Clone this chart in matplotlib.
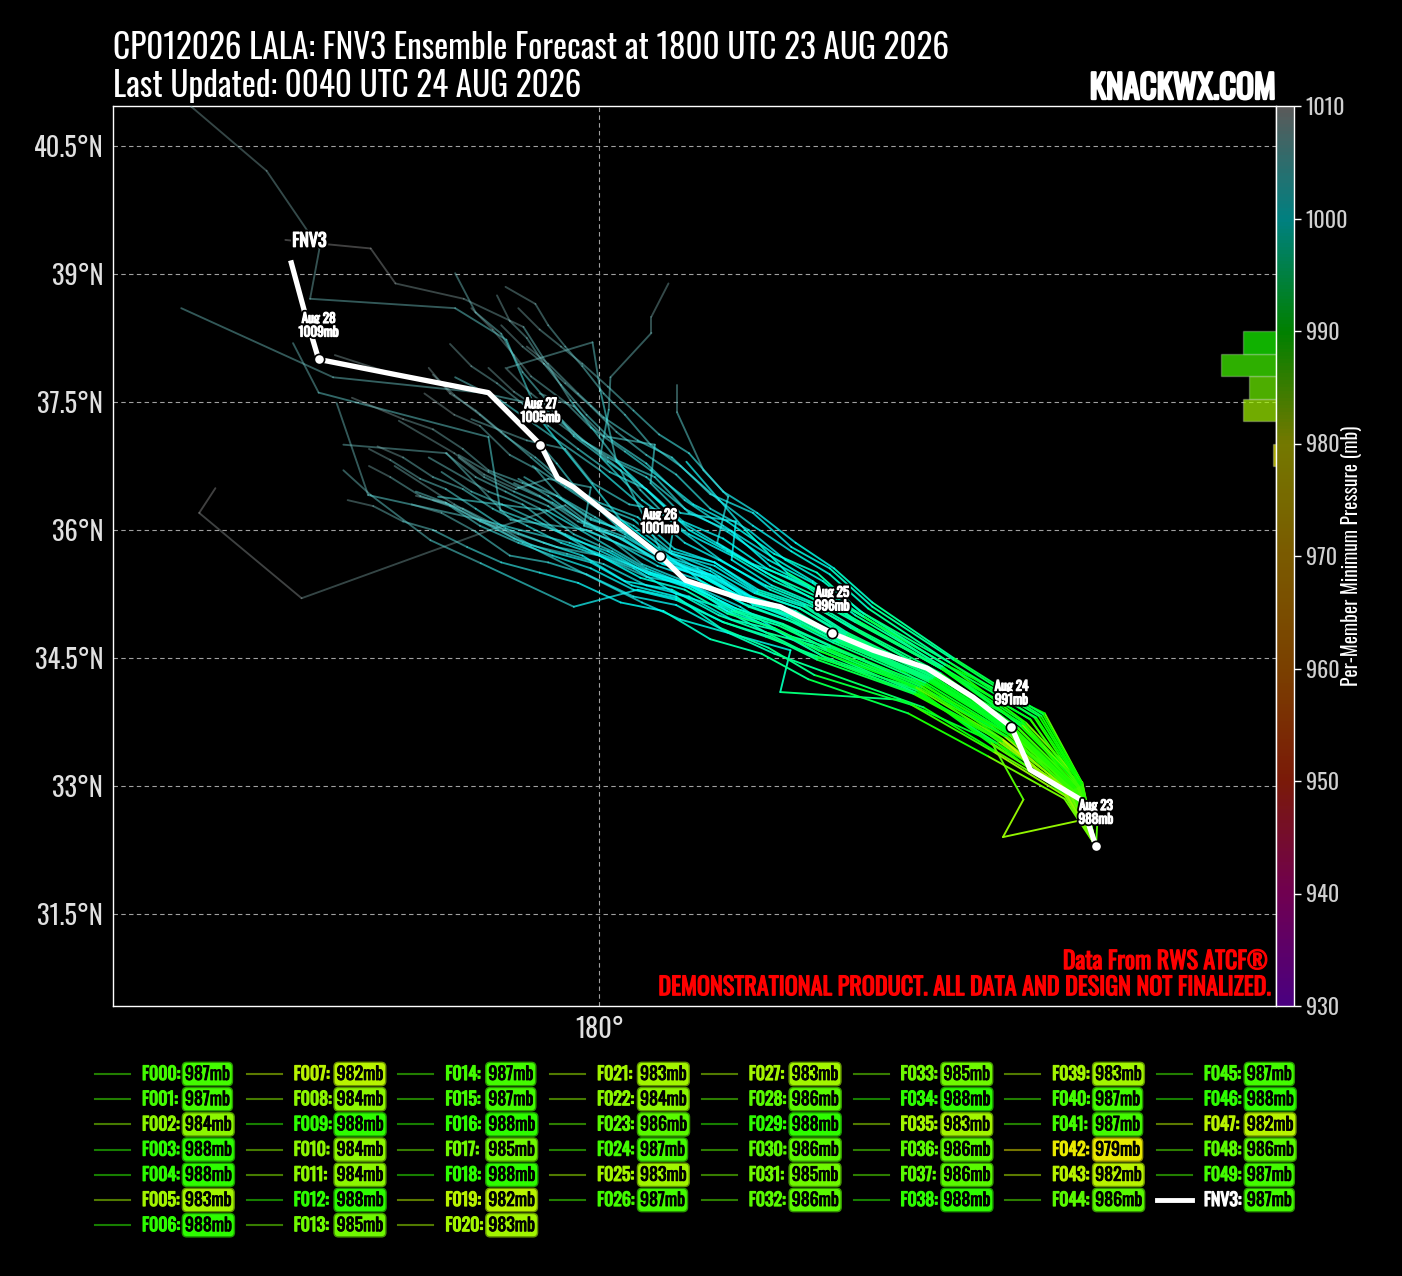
import numpy as np
import matplotlib
matplotlib.use("Agg")
import matplotlib.pyplot as plt
import matplotlib.patheffects as pe
from matplotlib import font_manager as fm
from matplotlib.collections import LineCollection
from matplotlib.colors import LinearSegmentedColormap, Normalize, to_rgb
from matplotlib.cm import ScalarMappable
from matplotlib.lines import Line2D
from matplotlib.ticker import FuncFormatter

# ---- data -------------------------------------------------------------
TITLE1 = "CP012026 LALA: FNV3 Ensemble Forecast at 1800 UTC 23 AUG 2026"
TITLE2 = "Last Updated: 0040 UTC 24 AUG 2026"

member_names = [f"F{i:03d}" for i in range(50)]
member_min = [987, 987, 984, 988, 988, 983, 988,
              982, 984, 988, 984, 984, 988, 985,
              987, 987, 988, 985, 988, 982, 983,
              983, 984, 986, 987, 983, 987,
              983, 986, 988, 986, 985, 986,
              985, 988, 983, 986, 986, 988,
              983, 987, 987, 979, 982, 986,
              987, 988, 982, 986, 987]
mean_name = "FNV3"
mean_min = 987

# ensemble mean track (deg E, deg N)
mean_lon = [185.82, 185.64, 185.05, 184.83, 184.38, 183.84, 183.21, 182.73, 182.12, 181.65,
            181.01, 180.71, 179.70, 179.51, 179.31, 178.70, 177.62, 176.71, 176.55, 176.39]
mean_lat = [32.29, 32.84, 33.19, 33.69, 34.04, 34.38, 34.59, 34.79, 35.10, 35.20,
            35.41, 35.70, 36.50, 36.61, 37.00, 37.61, 37.82, 38.00, 38.54, 39.13]
day_idx = [0, 3, 7, 11, 14, 17]
day_labels = ["Aug 23", "Aug 24", "Aug 25", "Aug 26", "Aug 27", "Aug 28"]
day_pres = [988, 991, 996, 1001, 1005, 1009]

# member tracks (deg E)
track_lon = [
    [185.82, 185.55, 184.85, 183.95, 182.85, 182.30, 181.80, 181.40, 180.85, 180.30, 179.95, 179.55, 179.25, 178.95, 178.60, 178.30, 177.95],
    [185.82, 185.62, 185.10, 184.10, 183.05, 182.55, 182.05, 181.50, 181.10, 180.60, 180.30, 179.90, 179.60, 179.20, 179.00, 178.75, 178.50],
    [185.82, 185.50, 184.62, 183.80, 182.60, 182.05, 181.50, 180.90, 180.40, 179.85, 179.40, 178.95, 178.55, 178.15, 177.80],
    [185.82, 185.60, 184.95, 184.05, 182.95, 182.45, 182.00, 181.55, 181.05, 180.65, 180.20, 179.80, 179.45, 179.20, 178.90],
    [185.82, 185.58, 184.80, 183.85, 182.80, 182.25, 181.70, 181.20, 180.70, 180.20, 179.75, 179.30, 179.00],
    [185.82, 185.48, 184.60, 183.70, 182.50, 181.95, 181.40, 180.85, 180.30, 179.80, 179.35, 178.90, 178.55, 178.20, 177.90, 177.55, 177.30],
    [185.82, 185.65, 185.18, 184.15, 183.20, 182.70, 182.25, 181.80, 181.30, 180.85, 180.45, 180.05, 179.75, 179.40, 179.15],
    [185.82, 185.84, 184.73, 184.97, 184.58, 183.60, 182.50, 181.95, 181.40, 180.90, 180.40, 179.95, 179.50, 179.10, 178.70, 178.00],
    [185.82, 185.52, 184.72, 183.80, 182.70, 182.15, 181.60, 181.10, 180.60, 180.15, 179.70, 179.30, 178.90, 178.55, 178.20],
    [185.82, 185.60, 185.05, 184.00, 183.00, 182.50, 182.00, 181.45, 181.00, 180.55, 180.15, 179.85, 179.55, 179.35, 179.15, 178.95, 178.80],
    [185.82, 185.62, 184.95, 184.05, 183.05, 182.55, 182.05, 181.55, 181.05, 180.50, 180.01, 180.11, 180.13, 180.61, 180.61, 180.81],
    [185.82, 185.65, 185.22, 184.10, 183.15, 182.65, 182.20, 181.80, 181.38, 181.51, 181.22, 180.91, 180.91],
    [185.82, 185.50, 184.66, 183.80, 182.75, 182.20, 181.65, 181.10, 180.55, 180.00, 179.50, 179.05, 178.60, 178.20, 177.85],
    [185.82, 185.48, 184.70, 183.70, 182.60, 182.05, 181.50, 181.00, 180.50, 180.05, 179.60, 178.72, 176.51, 175.31, 175.50],
    [185.82, 185.58, 184.88, 183.95, 182.90, 182.40, 181.85, 181.35, 180.85, 180.40, 179.95, 179.55, 179.20, 178.85, 178.55, 178.25, 178.00],
    [185.82, 185.55, 184.82, 183.85, 182.75, 182.20, 181.70, 181.20, 180.70, 180.25, 179.80, 179.40, 179.05],
    [185.82, 185.50, 184.70, 183.64, 182.59, 182.00, 181.42, 180.95, 180.48, 179.66, 179.11, 178.41, 177.61, 177.32, 176.80, 176.32],
    [185.82, 185.45, 184.58, 183.53, 182.36, 181.75, 181.18, 180.25, 179.31, 178.91, 178.31, 176.61, 176.72, 176.10, 175.22, 174.97],
    [185.82, 185.56, 184.85, 183.85, 182.80, 182.20, 181.70, 181.15, 180.70, 180.25, 179.31, 178.61, 176.88, 175.10],
    [185.82, 185.50, 184.75, 183.75, 182.65, 182.10, 181.55, 181.00, 180.55, 179.60, 178.84, 178.70, 176.71, 176.41],
    [185.82, 185.47, 184.72, 183.70, 182.55, 181.95, 181.45, 180.90, 180.45, 179.70, 178.61, 178.02, 177.32, 177.00],
    [185.82, 185.52, 184.80, 183.80, 182.70, 182.15, 181.60, 181.05, 180.60, 179.65, 178.61, 177.29, 176.92],
    [185.82, 185.56, 184.84, 183.86, 182.80, 182.25, 181.75, 181.20, 180.75, 179.85, 178.96, 178.21, 177.00],
    [185.82, 185.60, 184.90, 183.95, 182.95, 182.45, 181.95, 181.40, 181.00, 180.01, 178.84, 178.31],
    [185.82, 185.53, 184.78, 183.78, 182.70, 182.12, 181.60, 181.05, 180.55, 179.38, 178.11],
    [185.82, 185.63, 184.95, 184.05, 183.05, 182.55, 182.05, 181.50, 181.05, 180.20, 180.01, 179.92, 178.92],
    [185.82, 185.45, 184.65, 183.53, 182.12, 182.24, 180.95, 180.50, 180.00, 179.10, 178.30, 177.60],
    [185.82, 185.66, 185.00, 184.10, 183.10, 182.20, 181.71, 181.02],
    [185.82, 185.62, 184.92, 184.00, 183.00, 182.45, 181.95, 181.45, 180.95, 180.50, 180.10, 179.70, 179.40, 179.10, 178.85, 178.55, 178.31],
    [185.82, 185.64, 185.15, 184.10, 183.15, 182.70, 182.25, 181.80, 181.40, 180.95, 180.60, 180.30, 180.05, 179.80, 179.60, 179.40, 179.25, 178.90],
    [185.82, 185.55, 184.86, 183.90, 182.82, 182.30, 181.78, 181.30, 180.80, 180.35, 179.90, 179.50, 179.10, 178.70, 178.40, 178.05, 177.70, 177.10],
    [185.82, 185.48, 184.58, 183.72, 182.62, 182.10, 181.55, 181.05, 180.55, 180.05, 179.62, 179.20, 178.80, 178.40, 178.05],
    [185.82, 185.60, 184.91, 184.00, 183.02, 182.50, 182.02, 181.55, 181.60, 180.95, 180.60, 180.65, 180.05, 179.70, 179.30],
    [185.82, 185.60, 184.83, 183.82, 182.72, 182.20, 181.65, 181.20, 180.71, 180.20, 179.72, 179.50, 179.31, 178.70, 177.61, 176.90],
    [185.82, 185.63, 184.94, 184.02, 183.00, 182.50, 181.98, 181.50, 181.00, 180.55, 180.10, 179.70, 179.35, 179.00, 178.70],
    [185.82, 185.47, 184.72, 183.68, 182.55, 182.00, 181.45, 180.90, 180.40, 179.90, 179.45, 179.05, 178.60, 178.25, 177.90, 177.55, 177.30],
    [185.82, 185.58, 184.87, 183.92, 182.88, 182.35, 181.85, 181.35, 180.85, 180.40, 179.98, 179.60, 179.22],
    [185.82, 185.52, 184.80, 183.82, 182.74, 182.20, 181.68, 181.15, 180.68, 180.20, 179.78, 179.40, 179.00, 178.65, 178.35],
    [185.82, 185.66, 185.20, 184.15, 183.20, 182.75, 182.30, 181.85, 181.45, 181.05, 180.70, 180.40, 180.10, 179.80, 179.55, 179.30, 179.05],
    [185.82, 185.45, 184.55, 183.62, 182.45, 181.90, 181.30, 180.75, 180.25, 179.75, 179.30, 178.85, 178.45, 178.05, 177.70, 177.35, 177.05],
    [185.82, 185.56, 184.86, 183.92, 182.88, 182.35, 181.82, 181.30, 180.82, 180.90, 180.35, 179.92, 179.60, 179.15, 178.50],
    [185.82, 185.54, 184.84, 183.88, 182.84, 182.30, 181.80, 181.30, 180.80, 180.35, 179.90, 179.50, 179.12],
    [185.82, 185.46, 184.72, 183.70, 182.58, 182.05, 181.50, 181.00, 180.48, 180.00, 179.55, 179.15, 178.75, 178.40, 178.05, 177.70, 177.40],
    [185.82, 185.50, 184.68, 183.76, 182.66, 182.12, 181.58, 181.05, 180.58, 180.10, 179.66, 179.25, 178.86, 178.50, 178.15],
    [185.82, 185.62, 185.05, 184.00, 182.98, 182.45, 181.96, 181.45, 180.98, 180.55, 180.12, 179.75, 179.40, 179.10, 178.80, 178.50, 178.25],
    [185.82, 185.56, 184.85, 183.88, 182.82, 182.30, 181.76, 181.25, 180.76, 180.30, 179.85, 179.45, 179.05, 178.70, 178.35],
    [185.82, 185.64, 185.12, 184.05, 183.10, 182.62, 182.18, 181.75, 181.30, 180.90, 180.55, 180.20, 179.90, 179.60, 179.35, 179.10, 178.85],
    [185.82, 185.46, 184.62, 183.66, 182.52, 181.98, 181.42, 180.90, 180.38, 179.90, 179.42, 179.00, 178.58, 178.20, 177.85],
    [185.82, 185.54, 184.83, 183.86, 182.80, 182.25, 181.74, 181.25, 180.74, 180.28, 179.82, 179.90, 179.40, 179.02, 178.65, 178.30, 177.65],
    [185.82, 185.58, 184.98, 183.94, 182.90, 182.40, 181.86, 181.35, 180.88, 180.45, 180.00, 179.60, 179.25, 178.90, 178.60, 178.30, 178.05],
]
# member tracks (deg N)
track_lat = [
    [32.29, 32.95, 33.62, 34.22, 34.68, 34.98, 35.12, 35.45, 35.58, 35.95, 36.15, 36.38, 36.72, 36.88, 37.22, 37.35, 37.60],
    [32.29, 33.00, 33.80, 34.45, 35.05, 35.50, 35.72, 36.10, 36.30, 36.70, 36.92, 37.20, 37.50, 37.80, 38.05, 38.35, 38.60],
    [32.29, 32.90, 33.42, 33.92, 34.35, 34.55, 34.80, 35.12, 35.22, 35.48, 35.62, 35.70, 35.98, 36.20, 36.30],
    [32.29, 33.05, 33.76, 34.36, 34.98, 35.35, 35.58, 35.98, 36.20, 36.62, 36.82, 37.05, 37.40, 37.60, 37.90],
    [32.29, 32.98, 33.62, 34.28, 34.72, 35.05, 35.18, 35.50, 35.65, 35.92, 36.10, 36.40, 36.55],
    [32.29, 32.92, 33.50, 34.15, 34.52, 34.80, 35.00, 35.30, 35.40, 35.70, 35.85, 36.02, 36.25, 36.48, 36.60, 36.82, 36.95],
    [32.29, 33.02, 33.82, 34.48, 35.10, 35.55, 35.80, 36.20, 36.42, 36.85, 37.05, 37.32, 37.60, 37.95, 38.15],
    [32.29, 32.64, 32.40, 32.84, 33.54, 34.20, 34.65, 34.80, 35.10, 35.25, 35.55, 35.72, 36.00, 36.30, 36.45, 36.85],
    [32.29, 32.95, 33.55, 34.20, 34.62, 34.78, 35.05, 35.35, 35.50, 35.75, 35.95, 36.25, 36.45, 36.62, 36.90],
    [32.29, 33.00, 33.78, 34.40, 35.05, 35.40, 35.70, 36.05, 36.35, 36.78, 37.05, 37.35, 37.70, 37.95, 38.25, 38.45, 38.75],
    [32.29, 33.00, 33.72, 34.35, 34.90, 35.18, 35.40, 35.70, 35.95, 36.35, 36.86, 37.41, 37.79, 38.31, 38.50, 38.89],
    [32.29, 33.05, 33.85, 34.40, 34.95, 35.25, 35.45, 35.60, 35.85, 36.39, 36.70, 37.38, 37.70],
    [32.29, 32.96, 33.50, 34.05, 34.45, 34.75, 35.10, 35.35, 35.45, 35.70, 35.80, 35.95, 36.10, 36.32, 36.40],
    [32.29, 32.92, 33.55, 34.10, 34.58, 34.85, 35.05, 35.40, 35.60, 35.95, 36.29, 36.00, 35.20, 36.20, 36.49],
    [32.29, 32.97, 33.66, 34.30, 34.78, 35.10, 35.28, 35.62, 35.75, 36.12, 36.30, 36.55, 36.85, 37.15, 37.40, 37.60, 37.90],
    [32.29, 32.96, 33.64, 34.26, 34.70, 34.98, 35.18, 35.45, 35.62, 35.90, 36.10, 36.40, 36.60],
    [32.29, 33.07, 33.83, 34.48, 35.06, 35.30, 35.65, 36.00, 36.47, 37.52, 38.38, 38.71, 38.89, 39.30, 39.35, 39.40],
    [32.29, 33.09, 33.71, 34.36, 34.89, 35.10, 35.41, 36.12, 37.29, 38.23, 38.60, 38.71, 39.30, 40.21, 40.96, 41.22],
    [32.29, 32.98, 33.65, 34.25, 34.75, 35.05, 35.25, 35.55, 35.80, 36.70, 37.46, 37.61, 37.79, 38.60],
    [32.29, 32.94, 33.58, 34.15, 34.62, 34.88, 35.05, 35.35, 35.50, 35.95, 36.23, 37.09, 37.61, 38.19],
    [32.29, 32.92, 33.52, 34.08, 34.52, 34.75, 34.92, 35.20, 35.30, 35.10, 35.61, 35.88, 36.41, 36.70],
    [32.29, 32.95, 33.60, 34.18, 34.65, 34.90, 35.08, 35.35, 35.50, 35.85, 36.12, 36.41, 37.49],
    [32.29, 32.96, 33.62, 34.22, 34.72, 35.00, 35.18, 35.45, 35.62, 36.00, 36.12, 36.90, 37.00],
    [32.29, 33.00, 33.68, 34.30, 34.85, 35.15, 35.35, 35.65, 35.85, 36.70, 37.52, 37.79],
    [32.29, 32.95, 33.58, 34.16, 34.64, 34.90, 35.08, 35.35, 35.55, 36.23, 36.39],
    [32.29, 33.02, 33.72, 34.35, 34.92, 35.22, 35.45, 35.75, 36.00, 36.80, 37.64, 38.20, 37.90],
    [32.29, 32.90, 33.50, 34.01, 34.10, 34.59, 34.95, 35.15, 35.40, 35.85, 36.30, 36.75],
    [32.29, 33.04, 33.74, 34.40, 34.98, 35.50, 36.00, 36.80],
    [32.29, 33.02, 33.72, 34.38, 34.92, 35.22, 35.50, 35.80, 36.10, 36.52, 36.80, 37.10, 37.50, 37.85, 38.30, 38.55, 39.01],
    [32.29, 33.02, 33.82, 34.45, 35.08, 35.48, 35.75, 36.05, 36.35, 36.75, 37.00, 37.35, 37.60, 37.92, 38.15, 38.40, 38.65, 38.85],
    [32.29, 32.97, 33.64, 34.26, 34.74, 35.05, 35.22, 35.52, 35.68, 35.98, 36.12, 36.40, 36.55, 36.70, 36.95, 37.18, 37.30, 37.55],
    [32.29, 32.93, 33.50, 34.12, 34.52, 34.82, 34.95, 35.22, 35.35, 35.60, 35.72, 35.82, 36.05, 36.25, 36.35],
    [32.29, 32.99, 33.68, 34.32, 34.84, 35.15, 35.35, 35.65, 36.10, 36.20, 36.55, 37.00, 37.10, 37.45, 37.60],
    [32.29, 32.88, 33.69, 34.39, 34.79, 35.05, 35.20, 35.48, 35.70, 36.05, 36.50, 36.78, 37.00, 37.61, 37.82, 38.05],
    [32.29, 33.01, 33.70, 34.40, 35.00, 35.38, 35.65, 35.98, 36.25, 36.62, 36.85, 37.12, 37.38, 37.62, 37.90],
    [32.29, 32.91, 33.52, 34.08, 34.48, 34.75, 34.92, 35.18, 35.30, 35.55, 35.70, 35.85, 36.05, 36.28, 36.40, 36.62, 36.75],
    [32.29, 32.97, 33.65, 34.27, 34.76, 35.08, 35.26, 35.58, 35.72, 36.05, 36.25, 36.50, 36.75],
    [32.29, 32.95, 33.61, 34.21, 34.68, 34.95, 35.14, 35.42, 35.58, 35.85, 36.02, 36.28, 36.45, 36.62, 36.85],
    [32.29, 33.03, 33.84, 34.50, 35.15, 35.55, 35.85, 36.20, 36.45, 36.90, 37.12, 37.40, 37.68, 37.95, 38.15, 38.35, 38.60],
    [32.29, 32.85, 33.35, 33.85, 34.25, 34.55, 34.72, 35.05, 35.15, 35.38, 35.50, 35.62, 35.80, 36.00, 36.10, 36.28, 36.35],
    [32.29, 32.98, 33.66, 34.28, 34.78, 35.08, 35.26, 35.55, 35.74, 36.20, 36.30, 36.55, 36.95, 37.05, 37.30],
    [32.29, 32.96, 33.63, 34.25, 34.70, 35.00, 35.20, 35.48, 35.66, 35.95, 36.14, 36.40, 36.62],
    [32.29, 32.92, 33.55, 34.16, 34.58, 34.85, 35.02, 35.30, 35.44, 35.70, 35.85, 36.05, 36.25, 36.48, 36.62, 36.85, 36.98],
    [32.29, 32.94, 33.52, 34.18, 34.60, 34.90, 35.06, 35.32, 35.48, 35.75, 35.90, 36.12, 36.30, 36.45, 36.68],
    [32.29, 33.00, 33.78, 34.38, 34.95, 35.32, 35.55, 35.90, 36.10, 36.48, 36.68, 36.95, 37.22, 37.48, 37.72, 37.92, 38.18],
    [32.29, 32.97, 33.63, 34.24, 34.72, 35.02, 35.20, 35.48, 35.65, 35.92, 36.08, 36.32, 36.50, 36.68, 36.88],
    [32.29, 33.01, 33.80, 34.42, 35.02, 35.40, 35.65, 36.00, 36.25, 36.65, 36.88, 37.15, 37.45, 37.72, 37.95, 38.15, 38.40],
    [32.29, 32.88, 33.40, 33.95, 34.30, 34.62, 34.85, 35.22, 35.35, 35.62, 35.75, 35.90, 36.12, 36.32, 36.45],
    [32.29, 32.96, 33.62, 34.24, 34.68, 34.98, 35.16, 35.45, 35.60, 35.90, 36.05, 36.50, 36.60, 36.48, 36.65, 36.90, 37.28],
    [32.29, 32.98, 33.72, 34.29, 34.80, 35.12, 35.30, 35.62, 35.78, 36.15, 36.32, 36.55, 36.85, 37.10, 37.35, 37.58, 37.82],
]
# member central pressure along track (mb)
track_pres = [
    [988, 987, 990, 993, 996, 997, 999, 1000, 1001, 1002, 1003, 1004, 1005, 1006, 1007, 1008, 1009],
    [988, 987, 990, 993, 996, 997, 999, 1000, 1001, 1002, 1004, 1005, 1006, 1007, 1008, 1008, 1009],
    [988, 984, 988, 992, 995, 996, 998, 1000, 1001, 1002, 1003, 1004, 1005, 1006, 1007],
    [988, 988, 990, 993, 996, 998, 999, 1000, 1002, 1003, 1004, 1005, 1006, 1007, 1008],
    [988, 988, 991, 994, 997, 998, 1000, 1001, 1002, 1003, 1004, 1005, 1006],
    [988, 983, 987, 991, 994, 996, 997, 999, 1000, 1001, 1002, 1003, 1004, 1005, 1006, 1007, 1008],
    [988, 988, 991, 994, 997, 998, 1000, 1001, 1002, 1003, 1004, 1005, 1006, 1007, 1008],
    [988, 985, 982, 985, 988, 992, 995, 996, 998, 999, 1001, 1002, 1003, 1004, 1005, 1007],
    [988, 984, 988, 992, 995, 996, 998, 1000, 1001, 1002, 1003, 1004, 1005, 1006, 1007],
    [988, 988, 991, 994, 997, 998, 1000, 1001, 1002, 1003, 1004, 1005, 1006, 1006, 1007, 1007, 1008],
    [988, 984, 988, 992, 995, 996, 998, 999, 1001, 1002, 1003, 1005, 1006, 1007, 1007, 1008],
    [988, 984, 988, 992, 995, 997, 998, 1000, 1001, 1003, 1004, 1006, 1007],
    [988, 988, 991, 994, 997, 998, 1000, 1001, 1002, 1003, 1004, 1005, 1006, 1007, 1008],
    [988, 985, 989, 993, 996, 997, 999, 1001, 1002, 1004, 1005, 1007, 1009, 1010, 1010],
    [988, 987, 990, 993, 996, 997, 999, 1000, 1001, 1002, 1003, 1004, 1005, 1006, 1007, 1008, 1009],
    [988, 987, 990, 993, 996, 997, 999, 1000, 1001, 1002, 1003, 1004, 1005],
    [988, 988, 991, 994, 997, 999, 1000, 1002, 1003, 1005, 1007, 1008, 1009, 1010, 1010, 1010],
    [988, 985, 989, 992, 995, 997, 998, 1001, 1003, 1005, 1006, 1007, 1007, 1008, 1008, 1008],
    [988, 988, 991, 994, 997, 998, 1000, 1001, 1002, 1004, 1005, 1006, 1006, 1007],
    [988, 982, 986, 990, 994, 995, 997, 999, 1000, 1002, 1004, 1005, 1006, 1007],
    [988, 983, 987, 991, 994, 996, 997, 999, 1000, 1002, 1004, 1005, 1006, 1007],
    [988, 983, 987, 991, 994, 996, 997, 999, 1000, 1002, 1004, 1006, 1007],
    [988, 984, 988, 992, 995, 996, 998, 1000, 1001, 1003, 1005, 1006, 1007],
    [988, 986, 989, 993, 996, 997, 999, 1000, 1001, 1003, 1005, 1006],
    [988, 987, 990, 993, 996, 997, 999, 1000, 1001, 1003, 1005],
    [988, 983, 987, 991, 994, 996, 997, 999, 1000, 1003, 1005, 1006, 1007],
    [988, 987, 990, 993, 996, 998, 1000, 1001, 1002, 1004, 1006, 1008],
    [988, 983, 987, 991, 994, 997, 1000, 1002],
    [988, 986, 989, 993, 996, 997, 999, 1000, 1001, 1002, 1003, 1004, 1005, 1005, 1006, 1006, 1007],
    [988, 988, 991, 994, 997, 998, 1000, 1001, 1002, 1003, 1004, 1005, 1005, 1006, 1006, 1007, 1007, 1008],
    [988, 986, 989, 993, 996, 997, 999, 1000, 1001, 1002, 1003, 1004, 1005, 1006, 1007, 1007, 1008, 1009],
    [988, 985, 989, 992, 995, 996, 998, 1000, 1001, 1002, 1003, 1004, 1005, 1006, 1007],
    [988, 986, 989, 993, 996, 997, 999, 1000, 1001, 1002, 1003, 1004, 1005, 1006, 1007],
    [988, 985, 989, 992, 995, 996, 998, 1000, 1001, 1002, 1003, 1004, 1005, 1007, 1008, 1009],
    [988, 988, 991, 994, 997, 998, 1000, 1001, 1002, 1003, 1004, 1005, 1006, 1007, 1008],
    [988, 983, 987, 991, 994, 996, 997, 999, 1000, 1001, 1002, 1003, 1004, 1005, 1006, 1007, 1008],
    [988, 986, 989, 993, 996, 997, 999, 1000, 1001, 1002, 1003, 1004, 1005],
    [988, 986, 989, 993, 996, 997, 999, 1000, 1001, 1002, 1003, 1004, 1005, 1006, 1007],
    [988, 988, 991, 994, 997, 998, 1000, 1001, 1002, 1003, 1004, 1005, 1006, 1006, 1007, 1007, 1008],
    [988, 983, 987, 991, 994, 996, 997, 999, 1000, 1001, 1002, 1003, 1004, 1005, 1006, 1007, 1008],
    [988, 987, 990, 993, 996, 997, 999, 1000, 1001, 1002, 1003, 1004, 1005, 1006, 1007],
    [988, 987, 990, 993, 996, 997, 999, 1000, 1001, 1002, 1003, 1004, 1005],
    [988, 979, 984, 989, 993, 994, 996, 998, 999, 1000, 1002, 1003, 1004, 1005, 1006, 1007, 1008],
    [988, 982, 986, 990, 994, 996, 997, 999, 1000, 1001, 1002, 1003, 1004, 1005, 1006],
    [988, 986, 989, 993, 996, 997, 999, 1000, 1001, 1002, 1003, 1004, 1005, 1006, 1007, 1007, 1008],
    [988, 987, 990, 993, 996, 997, 999, 1000, 1001, 1002, 1003, 1004, 1005, 1006, 1007],
    [988, 988, 991, 994, 997, 998, 1000, 1001, 1002, 1003, 1004, 1005, 1006, 1006, 1007, 1007, 1008],
    [988, 982, 986, 990, 994, 996, 997, 999, 1000, 1001, 1002, 1003, 1004, 1005, 1006],
    [988, 986, 989, 993, 996, 997, 999, 1000, 1001, 1002, 1003, 1004, 1005, 1006, 1007, 1007, 1008],
    [988, 987, 990, 993, 996, 997, 999, 1000, 1001, 1002, 1003, 1004, 1005, 1006, 1007, 1007, 1008],
]

lat_ticks = [31.5, 33, 34.5, 36, 37.5, 39, 40.5]
lon_ticks = [180]
cbar_ticks = [930, 940, 950, 960, 970, 980, 990, 1000, 1010]
hist_edges = [978, 980, 982, 984, 986, 988, 990]

# ---- fonts --------------------------------------------------------------
names = {f.name for f in fm.fontManager.ttflist}
FONT = next((n for n in ("Oswald", "Roboto Condensed", "Liberation Sans Narrow",
                         "Open Sans Condensed") if n in names), "DejaVu Sans")
plt.rcParams["font.family"] = [FONT, "DejaVu Sans"]
HAS_BOLD = any(str(f.weight) in ("700", "bold") for f in fm.fontManager.ttflist if f.name == FONT)


def bold(color, outline=None, lw=0.9):
    # real bold if the family has it, otherwise thicken the glyphs with a stroke
    effects = []
    if outline:
        effects.append(pe.withStroke(linewidth=2.6 + lw, foreground=outline))
    if HAS_BOLD:
        return dict(weight="bold", path_effects=effects)
    effects.append(pe.withStroke(linewidth=lw, foreground=color))
    return dict(path_effects=effects)


# ---- colours ------------------------------------------------------------
cb_colors = ["#4a0080", "#700050", "#7a1a08", "#7a4000", "#7a5a00",
             "#747800", "#008000", "#008080", "#5a5a5a"]
norm = Normalize(930, 1010)
pos = [(v - 930) / 80 for v in cbar_ticks]
dim_cmap = LinearSegmentedColormap.from_list("dim", list(zip(pos, cb_colors)))
bright_cmap = LinearSegmentedColormap.from_list(
    "bright", list(zip(pos, [tuple(min(1, 2 * c) for c in to_rgb(h)) for h in cb_colors])))

W, H = 1402, 1276
fig = plt.figure(figsize=(W / 100, H / 100), dpi=100, facecolor="black")


def fx(px):
    return px / W


def fy(py):
    return 1 - py / H


ax = fig.add_axes([fx(113), fy(1006), fx(1276) - fx(113), fy(106) - fy(1006)])
ax.set_facecolor("black")
ax.set_xlim(174.30, 187.93)
ax.set_ylim(30.42, 40.97)
ax.set_yticks(lat_ticks)
ax.set_xticks(lon_ticks)
ax.yaxis.set_major_formatter(FuncFormatter(lambda v, p: f"{v:g}°N"))
ax.xaxis.set_major_formatter(FuncFormatter(lambda v, p: f"{v:g}°"))
ax.tick_params(length=0, pad=7, labelsize=19, labelcolor="#e0e0e0")
ax.grid(True, color="#a0a0a0", ls=(0, (4, 3)), lw=0.8)
ax.set_axisbelow(True)
for s in ax.spines.values():
    s.set_color("white")
    s.set_linewidth(1)

# member tracks, coloured by pressure along track, fading as they fill
for lons, lats, pres in zip(track_lon, track_lat, track_pres):
    pts = np.column_stack([lons, lats])
    segs = np.stack([pts[:-1], pts[1:]], axis=1)
    pm = (np.array(pres[:-1]) + np.array(pres[1:])) / 2
    rgba = bright_cmap(norm(pm))
    rgba[:, 3] = np.clip(1 - (pm - 996) / 12 * 0.65, 0.36, 1)
    ax.add_collection(LineCollection(segs, colors=rgba, linewidths=1.35, zorder=3,
                                     capstyle="round", joinstyle="round"))

# ensemble mean
ax.plot(mean_lon, mean_lat, color="white", lw=3.8, zorder=5, solid_joinstyle="round")
dx = [mean_lon[i] for i in day_idx]
dy = [mean_lat[i] for i in day_idx]
ax.scatter(dx, dy, s=55, c="white", edgecolors="black", linewidths=1.2, zorder=6)
for x, y, lab, p in zip(dx, dy, day_labels, day_pres):
    ax.annotate(f"{lab}\n{p}mb", (x, y), xytext=(0, 15), textcoords="offset points",
                ha="center", va="bottom", fontsize=9.5, color="white", linespacing=1.05,
                zorder=7, **bold("white", outline="black"))
ax.annotate(mean_name, (mean_lon[-1], mean_lat[-1]), xytext=(13, 16), textcoords="offset points",
            ha="center", va="center", fontsize=13, color="white", zorder=7,
            **bold("white", outline="black"))

red1 = ax.text(0.993, 0.041, "Data From RWS ATCF®", transform=ax.transAxes, ha="right",
               va="baseline", color="red", fontsize=15, zorder=8, **bold("red"))
red2 = ax.text(0.993, 0.012, "DEMONSTRATIONAL PRODUCT. ALL DATA AND DESIGN NOT FINALIZED.",
               transform=ax.transAxes, ha="right", va="baseline", color="red",
               fontsize=15, zorder=8, **bold("red"))

# histogram of member minimum pressure, hung off the colourbar
counts, _ = np.histogram(member_min, bins=hist_edges)
centers = (np.array(hist_edges[:-1]) + np.array(hist_edges[1:])) / 2
hax = fig.add_axes([fx(1176), fy(1006), fx(1276) - fx(1176), fy(106) - fy(1006)])
hax.patch.set_alpha(0)
hax.set_ylim(930, 1010)
hax.set_xlim(33, 0)
hax.axis("off")
hcol = bright_cmap(norm(centers))
hcol[:, 3] = 0.7
hax.barh(centers, counts, height=2, color=hcol, edgecolor=(1, 1, 1, 0.25), linewidth=1)

# colourbar
cax = fig.add_axes([fx(1276), fy(1006), fx(1294) - fx(1276), fy(106) - fy(1006)])
cb = fig.colorbar(ScalarMappable(norm=norm, cmap=dim_cmap), cax=cax, ticks=cbar_ticks)
cb.outline.set_edgecolor("white")
cb.outline.set_linewidth(1)
cax.tick_params(colors="white", labelcolor="#d0d0d0", labelsize=16, length=5, width=1)
fig.text(fx(1352), fy(556), "Per-Member Minimum Pressure (mb)", rotation=90,
         ha="center", va="center", color="white", fontsize=14)

# titles
t1 = fig.text(fx(113), fy(59), TITLE1, color="white", fontsize=26, ha="left", va="baseline")
t2 = fig.text(fx(113), fy(97), TITLE2, color="white", fontsize=26, ha="left", va="baseline")
tk = fig.text(fx(1276), fy(99), "KNACKWX.COM", color="white", fontsize=26,
              ha="right", va="baseline", **bold("white", lw=1.7))

# legend, laid out column-major like matplotlib's ncol=8 legend
leg_names = member_names + [mean_name]
leg_mins = member_min + [mean_min]
ncol = 8
n = len(leg_names)
rows = [n // ncol + (1 if c < n % ncol else 0) for c in range(ncol)]
col_items = []
k = 0
for c in range(ncol):
    col_items.append(list(range(k, k + rows[c])))
    k += rows[c]

probe = fig.text(0, 0, "F000:", fontsize=13, **bold("white"))
fig.canvas.draw()
r = fig.canvas.get_renderer()
leg_fs = 13 * 38 / probe.get_window_extent(r).width
probe.remove()
for t, target in ((t1, 836), (t2, 469), (tk, 186), (red1, 205), (red2, 611)):
    t.set_fontsize(t.get_fontsize() * target / t.get_window_extent(r).width)

for c, items in enumerate(col_items):
    x0 = 95 + c * 151.7
    for rI, i in enumerate(items):
        y = 1074 + rI * 25.2
        p = leg_mins[i]
        is_mean = leg_names[i] == mean_name
        lc = "white" if is_mean else dim_cmap(norm(p))
        fig.add_artist(Line2D([fx(x0), fx(x0 + 35)], [fy(y), fy(y)], color=lc,
                              lw=3.5 if is_mean else 1.5))
        bc = bright_cmap(norm(p))
        nc = "white" if is_mean else bc
        fig.text(fx(x0 + 47), fy(y), leg_names[i] + ":", color=nc,
                 fontsize=leg_fs, ha="left", va="center", **bold(nc))
        fig.text(fx(x0 + 90), fy(y), f"{p}mb", color="black", fontsize=leg_fs,
                 ha="left", va="center",
                 bbox=dict(boxstyle="round,pad=0.15,rounding_size=0.25", fc=bc,
                           ec=tuple(0.6 * v for v in bc[:3]), lw=1),
                 **bold("black", lw=0.6))

fig.savefig("out.png", dpi=100, facecolor="black")
